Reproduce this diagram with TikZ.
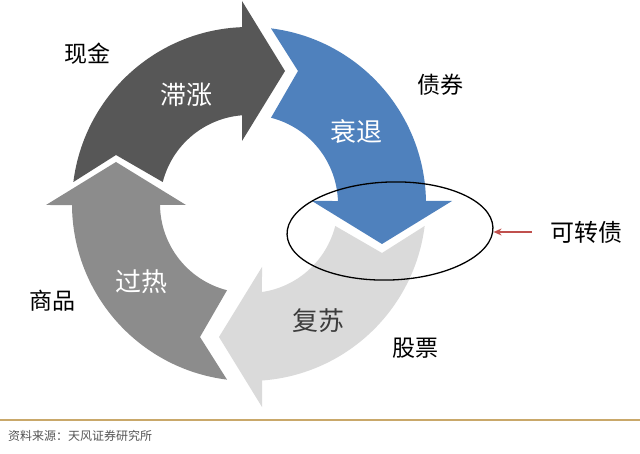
\documentclass[tikz,border=0pt]{standalone}
\usepackage{fontspec}
\setmainfont{Noto Sans CJK SC}
\usetikzlibrary{shapes.geometric,arrows.meta}
\definecolor{darkarr}{HTML}{575757}
\definecolor{bluearr}{HTML}{4F81BD}
\definecolor{grayarr}{HTML}{8C8C8C}
\definecolor{lightarr}{HTML}{DADADA}
\definecolor{redarr}{HTML}{C0504D}
\definecolor{goldline}{RGB}{201,168,106}
\definecolor{foottext}{HTML}{555555}
% #1 head base offset, #2 outer arc end angle, #3 inner arc start angle
\newcommand{\CycArrowPath}[3]{(22,175.63) arc[start angle=82.86, end angle=#2, radius=177] -- (203,#1) -- (133,#1-43) -- (63,#1) -- (#3:89) arc[start angle=#3, end angle=75.69, radius=89] -- (49,133) -- cycle}
\begin{document}
\begin{tikzpicture}[x=1pt,y=1pt,
  outlab/.style={font=\fontsize{23}{23}\selectfont, text=black, inner sep=0pt},
  inlab/.style={font=\fontsize{26}{26}\selectfont, inner sep=0pt},
  oval/.style={draw=black, line width=1.3pt, ellipse, minimum width=206pt, minimum height=98pt, inner sep=0pt},
  pointer/.style={draw=redarr, line width=1.3pt, -{Stealth[length=8pt,width=7pt]}}]
\useasboundingbox (0,0) rectangle (640,453);
\fill[white] (0,0) rectangle (640,453);
\coordinate (C) at (249,249);
\begin{scope}[shift={(C)}]
  \fill[bluearr] \CycArrowPath{3}{0.971}{1.932};
\end{scope}
\begin{scope}[shift={(C)}, rotate=-90]
  \fill[lightarr] \CycArrowPath{13}{4.213}{8.395};
\end{scope}
\begin{scope}[shift={(C)}, rotate=-180]
  \fill[grayarr] \CycArrowPath{1}{0.324}{0.644};
\end{scope}
\begin{scope}[shift={(C)}, rotate=-270]
  \fill[darkarr] \CycArrowPath{7}{2.266}{4.511};
\end{scope}
% labels inside arrows
\node[inlab, text=white] (zz) at (186,358) {滞涨};
\node[inlab, text=white] (st) at (356,321) {衰退};
\node[inlab, text=white] (gr) at (141,171) {过热};
\node[inlab, text={rgb,255:red,60;green,60;blue,60}] (fs) at (318,132) {复苏};
% outer labels
\node[outlab] (xj) at (87,399) {现金};
\node[outlab] (zq) at (440,368) {债券};
\node[outlab] (sp) at (52,152) {商品};
\node[outlab] (gp) at (415,105) {股票};
\node[outlab, font=\fontsize{24}{24}\selectfont] (kzz) at (586,221) {可转债};
% oval and pointer
\node[oval, rotate=2] (ov) at (390,222) {};
\draw[pointer, shorten <=18pt] (kzz.west) -- (kzz.west -| ov.east);
% footer
\draw[goldline, line width=1.5pt] (0,33) -- (640,33);
\node[anchor=west, inner sep=0pt, text=foottext, font=\fontsize{12}{12}\selectfont] (src) at (8,17) {资料来源：天风证券研究所};
\end{tikzpicture}
\end{document}
